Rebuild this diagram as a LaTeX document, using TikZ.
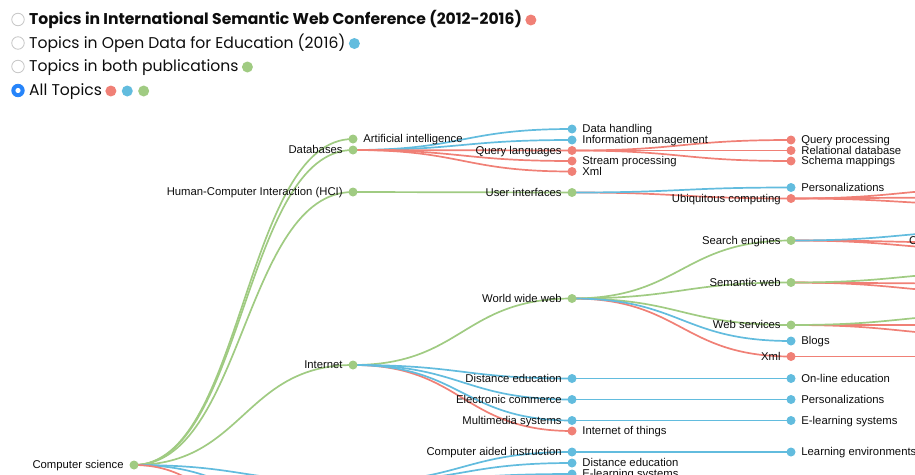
\documentclass[tikz,border=0pt]{standalone}
\usepackage{fontspec}
\setmainfont{Liberation Sans}
\newfontfamily\legendfont{Poppins}
\usetikzlibrary{positioning,backgrounds}
\definecolor{topicred}{RGB}{240,128,118}
\definecolor{topicblue}{RGB}{98,188,222}
\definecolor{topicgreen}{RGB}{160,203,130}
\definecolor{radioblue}{RGB}{38,132,250}
\tikzset{
  topic/.style={circle, fill=#1, inner sep=0pt, minimum size=9pt},
  key/.style={circle, fill=#1, inner sep=0pt, minimum size=11pt},
  radio/.style={circle, draw=black!22, fill=white, line width=0.8pt, inner sep=0pt, minimum size=12.5pt},
  lbl/.style={inner sep=0pt, text height=8.5pt, text depth=1.5pt, text=black!95, font=\fontsize{11.3}{13}\selectfont},
  lt/.style={label={[lbl]left:#1}},
  rt/.style={label={[lbl]right:#1}},
  legend/.style={inner sep=0pt, text height=11pt, text depth=2pt, text=black!95, font=\legendfont\fontsize{15.6}{18}\selectfont},
  link/.style={draw=#1, line width=1.7pt}
}
\newcommand\branch[3]{\draw[link=#1] (#2.center) .. controls +(109.5,0) and +(-109.5,0) .. (#3.center);}
\begin{document}
\begin{tikzpicture}[x=1pt, y=-1pt, label distance=5.5pt]
\useasboundingbox (0,0) rectangle (915,474);

\node[radio] (r1) at (18,19.5) {};
\node[radio] (r2) at (18,43) {};
\node[radio] (r3) at (18,66.5) {};
\node[radio, draw=radioblue, fill=radioblue] (r4) at (18,90.5) {};
\fill[white] (r4.center) circle (2.6);
\node[legend, anchor=base west] (t1) at (29,24.5) {\bfseries Topics in International Semantic Web Conference (2012-2016)};
\node[legend, anchor=base west] (t2) at (29,48) {Topics in Open Data for Education (2016)};
\node[legend, anchor=base west] (t3) at (29,71.5) {Topics in both publications};
\node[legend, anchor=base west] (t4) at (29,95.5) {All Topics};
\node[key=topicred, right=3pt of t1] (k1) {};
\node[key=topicblue, right=3pt of t2] (k2) {};
\node[key=topicgreen, right=3pt of t3] (k3) {};
\node[key=topicred, right=3pt of t4] (k4) {};
\node[key=topicblue, right=5pt of k4] (k5) {};
\node[key=topicgreen, right=5pt of k5] (k6) {};

\node[topic=topicgreen, lt=Computer science] (cs) at (134,465) {};

\node[topic=topicgreen, rt=Artificial intelligence] (ai) at (353,139) {};
\node[topic=topicgreen, lt=Databases] (db) at (353,150) {};
\node[topic=topicgreen, lt=Human-Computer Interaction (HCI)] (hci) at (353,192) {};
\node[topic=topicgreen, lt=Internet] (inet) at (353,365) {};
\coordinate (edu) at (353,482);
\coordinate (edub) at (353,520);
\coordinate (edur) at (353,600);

\node[topic=topicblue, rt=Data handling] (dh) at (572,129) {};
\node[topic=topicblue, rt=Information management] (im) at (572,140) {};
\node[topic=topicred, lt=Query languages] (ql) at (572,150.5) {};
\node[topic=topicred, rt=Stream processing] (sp) at (572,161) {};
\node[topic=topicred, rt=Xml] (xml) at (572,171.5) {};
\node[topic=topicgreen, lt=User interfaces] (ui) at (572,192.5) {};
\node[topic=topicgreen, lt=World wide web] (www) at (572,298.5) {};
\node[topic=topicblue, lt=Distance education] (de) at (572,378.5) {};
\node[topic=topicblue, lt=Electronic commerce] (ec) at (572,399.5) {};
\node[topic=topicblue, lt=Multimedia systems] (ms) at (572,420.5) {};
\node[topic=topicred, rt=Internet of things] (iot) at (572,431) {};
\node[topic=topicblue, lt=Computer aided instruction] (cai) at (572,452) {};
\node[topic=topicblue, rt=Distance education] (de2) at (572,463) {};
\node[topic=topicblue, rt=E-learning systems] (els) at (572,474) {};

\node[topic=topicred, rt=Query processing] (qp) at (791,140) {};
\node[topic=topicred, rt=Relational database] (rd) at (791,150.5) {};
\node[topic=topicred, rt=Schema mappings] (sm) at (791,161) {};
\node[topic=topicblue, rt=Personalizations] (pers) at (791,187.5) {};
\node[topic=topicred, lt=Ubiquitous computing] (ubi) at (791,198.5) {};
\node[topic=topicgreen, lt=Search engines] (se) at (791,240.5) {};
\node[topic=topicgreen, lt=Semantic web] (sw) at (791,282.5) {};
\node[topic=topicgreen, lt=Web services] (ws) at (791,325) {};
\node[topic=topicblue, rt=Blogs] (blogs) at (791,341) {};
\node[topic=topicred, lt=Xml] (xml2) at (791,356.5) {};
\node[topic=topicblue, rt=On-line education] (ole) at (791,378.5) {};
\node[topic=topicblue, rt=Personalizations] (pers2) at (791,399.5) {};
\node[topic=topicblue, rt=E-learning systems] (els2) at (791,420.5) {};
\node[topic=topicblue, rt=Learning environments] (le) at (791,452) {};
\node[lbl, anchor=base west] (cut) at (909,244) {C};

\begin{pgfonlayer}{background}
\branch{topicgreen}{cs}{ai}
\branch{topicgreen}{cs}{db}
\branch{topicgreen}{cs}{hci}
\branch{topicgreen}{cs}{inet}
\branch{topicblue}{cs}{edu}
\branch{topicblue}{cs}{edub}
\branch{topicred}{cs}{edur}
\branch{topicblue}{db}{dh}
\branch{topicblue}{db}{im}
\branch{topicred}{db}{ql}
\branch{topicred}{db}{sp}
\branch{topicred}{db}{xml}
\branch{topicgreen}{hci}{ui}
\branch{topicgreen}{inet}{www}
\branch{topicred}{inet}{iot}
\branch{topicblue}{inet}{de}
\branch{topicblue}{inet}{ec}
\branch{topicblue}{inet}{ms}
\branch{topicblue}{edu}{cai}
\branch{topicblue}{edu}{de2}
\branch{topicblue}{edu}{els}
\branch{topicred}{ql}{qp}
\branch{topicred}{ql}{rd}
\branch{topicred}{ql}{sm}
\branch{topicred}{ui}{ubi}
\branch{topicblue}{ui}{pers}
\branch{topicgreen}{www}{se}
\branch{topicgreen}{www}{sw}
\branch{topicgreen}{www}{ws}
\branch{topicred}{www}{xml2}
\branch{topicblue}{www}{blogs}
\branch{topicblue}{de}{ole}
\branch{topicblue}{ec}{pers2}
\branch{topicblue}{ms}{els2}
\branch{topicblue}{cai}{le}
\foreach \from/\col/\y in {ubi/topicred/188, ubi/topicred/197, ubi/topicred/205,
    se/topicred/243, se/topicred/250, se/topicblue/230.5,
    sw/topicred/284, sw/topicred/293, sw/topicgreen/272,
    ws/topicred/325, ws/topicred/336, ws/topicgreen/314, xml2/topicred/356.5} {
  \coordinate (far) at (1010,\y);
  \branch{\col}{\from}{far}
}
\end{pgfonlayer}
\end{tikzpicture}
\end{document}
